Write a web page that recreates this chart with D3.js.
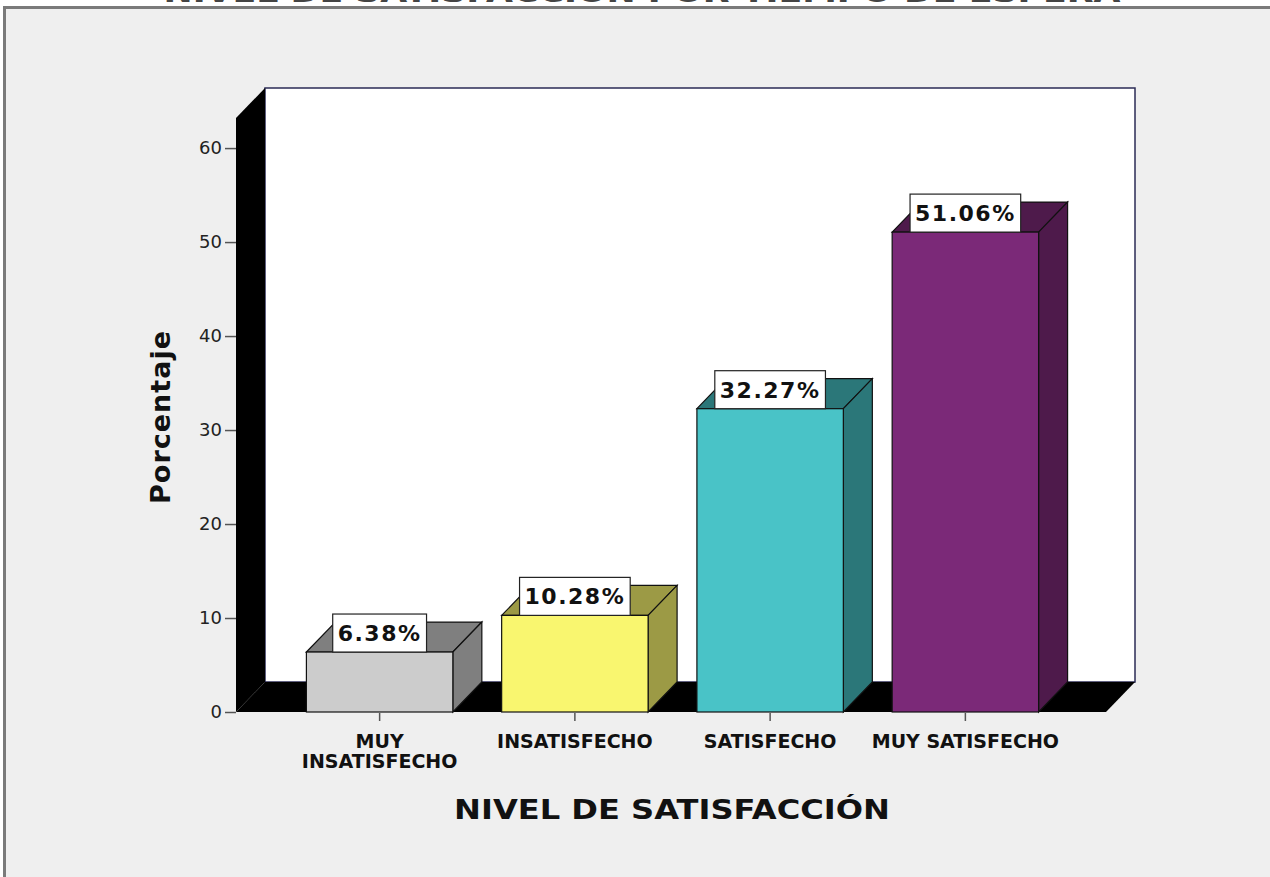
<!DOCTYPE html>
<html>
<head>
<meta charset="utf-8">
<script src="https://cdn.jsdelivr.net/npm/d3@7"></script>
<style>
  html, body { margin: 0; padding: 0; background: #ffffff; }
  svg { display: block; }
  .tick-label { font-family: "DejaVu Sans", sans-serif; font-size: 18px; fill: #222; }
  .cat-label { font-family: "DejaVu Sans", sans-serif; font-weight: bold; font-size: 19px; fill: #111; }
  .val-label { font-family: "DejaVu Sans", sans-serif; font-weight: bold; font-size: 22px; fill: #111; letter-spacing: 1.5px; }
  .axis-title { font-family: "DejaVu Sans", sans-serif; font-weight: bold; fill: #111; }
</style>
</head>
<body>
<div id="chart"></div>
<script>
// data
var categories = ["MUY INSATISFECHO", "INSATISFECHO", "SATISFECHO", "MUY SATISFECHO"];
var catLines = [["MUY", "INSATISFECHO"], ["INSATISFECHO"], ["SATISFECHO"], ["MUY SATISFECHO"]];
var percents = [6.38, 10.28, 32.27, 51.06];
var valueLabels = ["6.38%", "10.28%", "32.27%", "51.06%"];
var yTicks = [0, 10, 20, 30, 40, 50, 60];
var frontColors = ["#cccccc", "#f9f66f", "#49c3c7", "#7b2978"];
var sideColors = ["#7f7f7f", "#9c9a45", "#2b7779", "#4e1a4b"];

var width = 1270, height = 877;
var dx = 29, dy = -30; // depth of the 3D look

var svg = d3.select("#chart")
  .append("svg")
  .attr("width", width)
  .attr("height", height);

// title, cut off at the top of the frame
svg.append("text")
  .attr("class", "axis-title")
  .attr("transform", "translate(642,2) scale(1.2,1)")
  .attr("text-anchor", "middle")
  .style("font-size", "29px")
  .style("fill", "#444")
  .text("NIVEL DE SATISFACCIÓN POR TIEMPO DE ESPERA");

// panel
svg.append("rect")
  .attr("x", 4.5).attr("y", 7.5)
  .attr("width", width + 10).attr("height", height + 10)
  .attr("fill", "#efefef")
  .attr("stroke", "#7a7a7a")
  .attr("stroke-width", 3);

var yScale = d3.scaleLinear()
  .domain([0, 63.2])
  .range([712, 118]);

var xScale = d3.scaleBand()
  .domain(categories)
  .range([282, 1063])
  .paddingInner(0.25)
  .paddingOuter(0.125);

var x0 = 236, x1 = 1106;
var y0 = yScale(0), yTop = yScale(63.2);

// back wall
svg.append("rect")
  .attr("x", x0 + dx).attr("y", yTop + dy)
  .attr("width", x1 - x0).attr("height", y0 - yTop)
  .attr("fill", "#ffffff")
  .attr("stroke", "#2b2b55")
  .attr("stroke-width", 1.5);

// left wall
svg.append("path")
  .attr("d", "M" + x0 + "," + y0 + "L" + x0 + "," + yTop +
    "L" + (x0 + dx) + "," + (yTop + dy) + "L" + (x0 + dx) + "," + (y0 + dy) + "Z")
  .attr("fill", "#000");

// floor
svg.append("path")
  .attr("d", "M" + x0 + "," + y0 + "L" + x1 + "," + y0 +
    "L" + (x1 + dx) + "," + (y0 + dy) + "L" + (x0 + dx) + "," + (y0 + dy) + "Z")
  .attr("fill", "#000");

// y axis
var yAxis = d3.axisLeft(yScale).tickValues(yTicks).tickSize(11).tickPadding(3);
var gy = svg.append("g")
  .attr("transform", "translate(" + x0 + ",0)")
  .call(yAxis);
gy.select(".domain").remove();
gy.selectAll(".tick line").attr("stroke", "#555").attr("stroke-width", 1.5);
gy.selectAll(".tick text").attr("class", "tick-label").attr("fill", null);

// bars
var bars = svg.selectAll("g.bar")
  .data(percents)
  .enter()
  .append("g")
  .attr("class", "bar");

bars.each(function(v, i) {
  var g = d3.select(this);
  var bx = xScale(categories[i]);
  var bw = xScale.bandwidth();
  var by = yScale(v);
  // top face
  g.append("path")
    .attr("d", "M" + bx + "," + by + "L" + (bx + dx) + "," + (by + dy) +
      "L" + (bx + bw + dx) + "," + (by + dy) + "L" + (bx + bw) + "," + by + "Z")
    .attr("fill", sideColors[i])
    .attr("stroke", "#111").attr("stroke-width", 1.2);
  // side face
  g.append("path")
    .attr("d", "M" + (bx + bw) + "," + by + "L" + (bx + bw + dx) + "," + (by + dy) +
      "L" + (bx + bw + dx) + "," + (y0 + dy) + "L" + (bx + bw) + "," + y0 + "Z")
    .attr("fill", sideColors[i])
    .attr("stroke", "#111").attr("stroke-width", 1.2);
  // front face
  g.append("rect")
    .attr("x", bx).attr("y", by)
    .attr("width", bw).attr("height", y0 - by)
    .attr("fill", frontColors[i])
    .attr("stroke", "#111").attr("stroke-width", 1.2);
});

// x ticks and category labels
categories.forEach(function(c, i) {
  var cx = xScale(c) + xScale.bandwidth() / 2;
  svg.append("line")
    .attr("x1", cx).attr("x2", cx)
    .attr("y1", y0 + 1).attr("y2", y0 + 9)
    .attr("stroke", "#555").attr("stroke-width", 1.5);
  var t = svg.append("text")
    .attr("class", "cat-label")
    .attr("text-anchor", "middle");
  catLines[i].forEach(function(line, k) {
    t.append("tspan")
      .attr("x", cx)
      .attr("y", 748 + k * 19.5)
      .text(line);
  });
});

// value labels in white boxes
percents.forEach(function(v, i) {
  var cx = xScale(categories[i]) + xScale.bandwidth() / 2;
  var by = yScale(v);
  var g = svg.append("g");
  var box = g.append("rect");
  var txt = g.append("text")
    .attr("class", "val-label")
    .attr("x", cx)
    .attr("y", by - 11)
    .attr("text-anchor", "middle")
    .text(valueLabels[i]);
  var w = txt.node().getComputedTextLength() + 10;
  box.attr("x", cx - w / 2).attr("y", by - 38)
    .attr("width", w).attr("height", 38)
    .attr("fill", "#fff")
    .attr("stroke", "#222").attr("stroke-width", 1.2);
});

// axis titles
svg.append("text")
  .attr("class", "axis-title")
  .attr("transform", "translate(170,417) rotate(-90)")
  .attr("text-anchor", "middle")
  .style("font-size", "27px")
  .style("letter-spacing", "1px")
  .text("Porcentaje");

svg.append("text")
  .attr("class", "axis-title")
  .attr("transform", "translate(672,819) scale(1.19,1)")
  .attr("text-anchor", "middle")
  .style("font-size", "27px")
  .text("NIVEL DE SATISFACCIÓN");
</script>
</body>
</html>
